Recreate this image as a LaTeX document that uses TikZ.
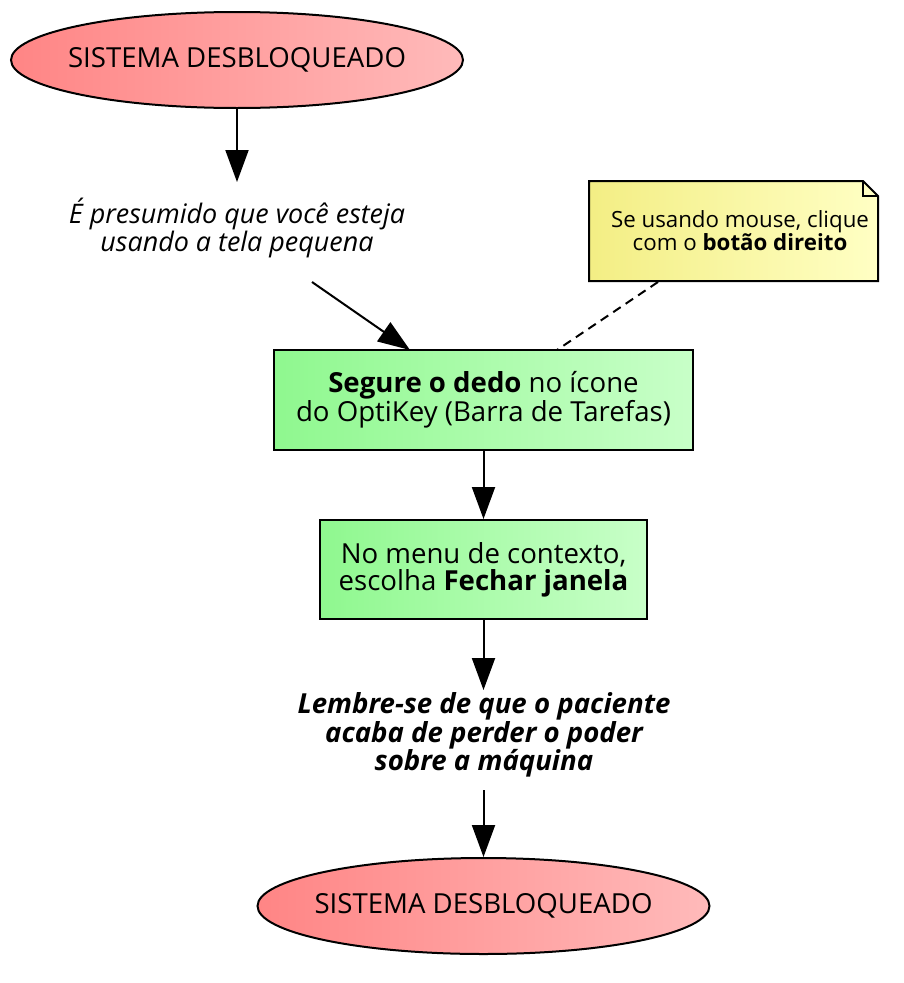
\documentclass[tikz,border=0pt]{standalone}
\usepackage{fontspec}
\setmainfont{Open Sans}
\usetikzlibrary{arrows.meta,shapes.geometric}
\definecolor{redL}{HTML}{FF8585}
\definecolor{redR}{HTML}{FFBABA}
\definecolor{grnL}{HTML}{8FF88F}
\definecolor{grnR}{HTML}{C8FFC8}
\definecolor{yelL}{HTML}{F3EE84}
\definecolor{yelR}{HTML}{FFFFC4}
\tikzset{
  x=1pt, y=-1pt,
  ell/.style={ellipse, draw=black, line width=2pt, minimum width=452pt, minimum height=96pt, inner sep=0pt,
    left color=redL, right color=redR, font=\fontsize{27.6}{30}\selectfont},
  actbox/.style={rectangle, draw=black, line width=2pt, left color=grnL, right color=grnR,
    align=center, font=\fontsize{27.6}{27}\selectfont, inner sep=0pt},
  plain/.style={align=center, inner sep=0pt},
  arr/.style={line width=2pt, -{Triangle[length=32pt,width=23pt]}},
}
\begin{document}
\begin{tikzpicture}
\useasboundingbox (0,0) rectangle (903,983);
\node[ell] (top) at (237,60) {\makebox[0pt]{SISTEMA DESBLOQUEADO}};
\node[plain, font=\fontsize{26.9}{28}\selectfont\itshape] (t1) at (237,228) {É presumido que você esteja\\usando a tela pequena};
\coordinate (t1s) at (312,282);
\coordinate (t1e) at (237,182);
\node[actbox, minimum width=419pt, minimum height=100pt] (b1) at (483.5,400) {\textbf{Segure o dedo} no ícone\\do OptiKey (Barra de Tarefas)};
\node[actbox, minimum width=327pt, minimum height=99pt] (b2) at (483.5,569.5) {No menu de contexto,\\escolha \textbf{Fechar janela}};
\node[plain, font=\fontsize{27.6}{27.5}\selectfont\bfseries\itshape] (t2) at (484,735) {Lembre-se de que o paciente\\acaba de perder o poder\\sobre a máquina};
\coordinate (t2e) at (483.5,690);
\coordinate (t2s) at (483.5,790);
\node[ell] (bot) at (483.5,906) {\makebox[0pt]{SISTEMA DESBLOQUEADO}};
% note
\fill[left color=yelL, right color=yelR] (589,181) -- (863,181) -- (878,196) -- (878,281) -- (589,281) -- cycle;
\draw[line width=2pt, line join=miter] (589,181) -- (863,181) -- (878,196) -- (878,281) -- (589,281) -- cycle;
\draw[line width=2pt, line join=miter] (863,181) -- (863,196) -- (878,196);
\node[plain, font=\fontsize{22.3}{23}\selectfont] (note) at (740,231) {Se usando mouse, clique\\com o \textbf{botão direito}};
\coordinate (ns) at (658,282);
\coordinate (ne) at (557,350);
% connectors
\draw[arr] (top.south) -- (t1e);
\draw[arr] (t1s) -- (410,350);
\draw[line width=2pt, dashed, dash pattern=on 9pt off 6pt] (ns) -- (ne);
\draw[arr] (b1.south) -- (b2.north);
\draw[arr] (b2.south) -- (t2e);
\draw[arr] (t2s) -- (bot.north);
\end{tikzpicture}
\end{document}
